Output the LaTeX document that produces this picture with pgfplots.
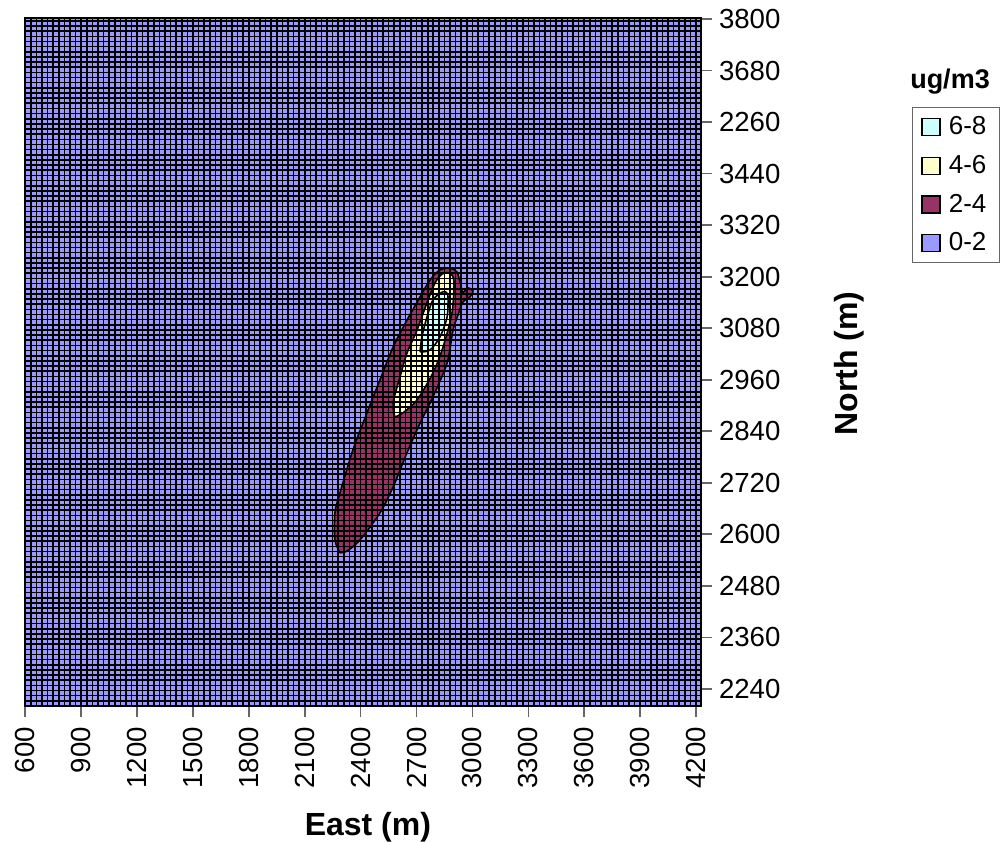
\documentclass[border=0pt]{standalone}
\usepackage{pgfplots}
\pgfplotsset{compat=1.18}
\usepackage{fontspec}
\setmainfont{Liberation Sans}
\definecolor{bgblue}{HTML}{9999FF}
\definecolor{plum}{HTML}{993366}
\definecolor{lyel}{HTML}{FFFFCC}
\definecolor{lcyan}{HTML}{CCFFFF}
\begin{document}
\begin{tikzpicture}
\useasboundingbox (0,0) rectangle (501bp,421bp);
\begin{axis}[
  at={(12.65bp,68bp)}, anchor=south west,
  scale only axis, width=337.85bp, height=343.85bp,
  xmin=600, xmax=4227, ymin=2200, ymax=3802,
  axis on top,
  /pgf/number format/assume math mode=true,
  /pgf/number format/1000 sep={},
  xtick={600,900,...,4200},
  ytick={2240,2360,2480,2600,2720,2840,2960,3080,3200,3320,3440,3560,3680,3800},
  yticklabels={2240,2360,2480,2600,2720,2840,2960,3080,3200,3320,3440,2260,3680,3800},
  minor xtick={630,660,...,4200},
  minor ytick={2212,2224,...,3796},
  grid=minor,
  minor grid style={black, line width=0.8bp},
  minor tick length=0pt,
  major tick length=5.5bp,
  tick align=outside,
  xtick pos=bottom, ytick pos=right,
  yticklabel pos=right,
  major tick style={black!60, line width=0.8bp},
  axis line style={black, line width=0.8bp},
  tick label style={font=\fontsize{13.8bp}{16bp}\selectfont},
  xticklabel style={rotate=90, anchor=east},
  xticklabel shift=1.5bp,
  yticklabel style={anchor=west},
  xlabel={East (m)},
  ylabel={North (m)},
  label style={font=\bfseries\fontsize{16bp}{19bp}\selectfont},
  xlabel style={at={(axis description cs:0.507,-0.1876)}, anchor=base},
  ylabel style={at={(axis description cs:1.2323,0.498)}, anchor=base},
  legend style={at={(1.312,0.871)}, anchor=north west, draw=black!60, line width=0.6bp,
    font=\fontsize{13bp}{15bp}\selectfont, inner xsep=4.5bp, inner ysep=2.5bp,
    row sep=4.8bp, cells={anchor=west}},
  reverse legend,
]
\addplot[fill=bgblue, draw=none,
  legend image code/.code={\draw[fill=bgblue, draw=black, line width=0.6bp] (0bp,-4.25bp) rectangle (9bp,4.25bp); \path (11bp,0bp);}]
  coordinates {(600,2200) (4227,2200) (4227,3802) (600,3802)} -- cycle;
\addlegendentry{0-2}
\addplot[fill=plum, draw=black, line width=0.8bp, smooth, tension=0.5,
  legend image code/.code={\draw[fill=plum, draw=black, line width=0.6bp] (0bp,-4.25bp) rectangle (9bp,4.25bp); \path (11bp,0bp);}]
  coordinates {(2289,2557) (2262,2587) (2262,2650) (2289,2696) (2359,2797) (2434,2883) (2504,2960) (2574,3036) (2649,3099) (2719,3153) (2772,3192) (2826,3216) (2880,3220) (2917,3211) (2933,3188) (2949,3164) (2976,3174) (3003,3167) (2987,3153) (2949,3141) (2923,3111) (2896,3076) (2864,2999) (2788,2920) (2719,2859) (2649,2790) (2574,2710) (2504,2650) (2397,2587) (2327,2561) (2289,2557)};
\addlegendentry{2-4}
\addplot[fill=lyel, draw=black, line width=0.8bp, smooth, tension=0.5,
  legend image code/.code={\draw[fill=lyel, draw=black, line width=0.6bp] (0bp,-4.25bp) rectangle (9bp,4.25bp); \path (11bp,0bp);}]
  coordinates {(2584,2873) (2574,2906) (2611,2966) (2649,3022) (2703,3076) (2756,3139) (2799,3185) (2837,3206) (2880,3208) (2901,3188) (2890,3115) (2842,3036) (2788,2976) (2703,2913) (2627,2883) (2584,2873)};
\addlegendentry{4-6}
\addplot[fill=lcyan, draw=black, line width=0.8bp, smooth, tension=0.5,
  legend image code/.code={\draw[fill=lcyan, draw=black, line width=0.6bp] (0bp,-4.25bp) rectangle (9bp,4.25bp); \path (11bp,0bp);}]
  coordinates {(2719,3025) (2729,3060) (2756,3106) (2788,3146) (2837,3164) (2858,3164) (2869,3153) (2864,3106) (2826,3060) (2772,3029) (2719,3025)};
\addlegendentry{6-8}
\end{axis}
\node[font=\bfseries\fontsize{13.5bp}{16bp}\selectfont, anchor=base] at (475bp,376.5bp) {ug/m3};
\end{tikzpicture}
\end{document}
